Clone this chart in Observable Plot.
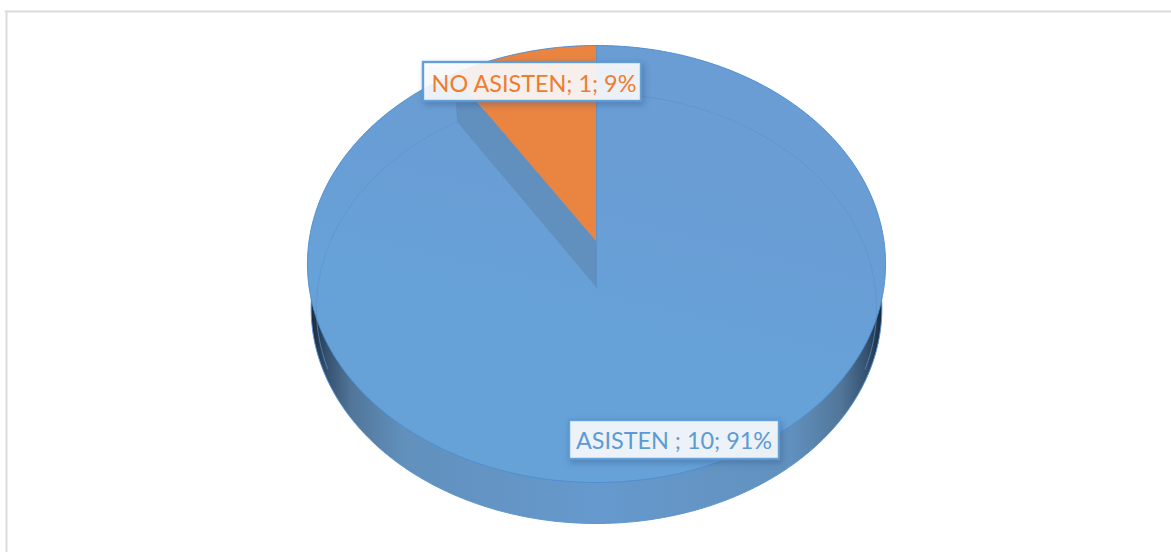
<!DOCTYPE html>
<html lang="es">
<head>
<meta charset="utf-8">
<script src="https://cdn.jsdelivr.net/npm/d3@7"></script>
<script src="https://cdn.jsdelivr.net/npm/@observablehq/plot@0.6"></script>
<style>
html, body { margin: 0; padding: 0; background: #fff; overflow: hidden; }
svg { display: block; }
.lbl { filter: drop-shadow(2px 3px 3px rgba(40, 70, 110, 0.35)); }
</style>
</head>
<body>
<div id="chart"></div>
<script>
// Data
const categories = ["ASISTEN ", "NO ASISTEN"];
const values = [10, 1];

// Layout (not data): 3D pie discs as perspective views of a unit circle
const W = 1171, H = 552;
const topDisc = {cx: 596, cy: 241, k: 287.5, a: 191.37, c: -0.103};
const baseDisc = {cx: 596, cy: 287, k: 278.7, a: 184.9, c: -0.0977};
const hullDisc = {cx: 596, cy: 287, k: 284, a: 184.9, c: -0.0977};
const labelBoxes = [
  {x1: 569, x2: 779, y1: 420, y2: 459, tx: 673.5, ty: 440.5},
  {x1: 423, x2: 641, y1: 62, y2: 101, tx: 533.5, ty: 84}
];
const sliceColors = ["#689fd6", "#ea8441"];
const textColors = ["#5b9bd5", "#ed7d31"];

// Slices, clockwise from 12 o'clock
const total = d3.sum(values);
const arcs = d3.pie().sort(null)(values);

function project(disc, t) {
  const u = Math.sin(t), v = -Math.cos(t);
  const w = 1 + disc.c * v;
  return {x: disc.cx + disc.k * u / w, y: (disc.cy + disc.a * v) / w};
}
function arcPts(disc, t0, t1) {
  const n = Math.max(2, Math.ceil(Math.abs(t1 - t0) / 0.01));
  return d3.range(n + 1).map(i => project(disc, t0 + (t1 - t0) * i / n));
}
const hub = disc => ({x: disc.cx, y: disc.cy});

const slicePolys = arcs.map(a => [hub(topDisc), ...arcPts(topDisc, a.startAngle, a.endAngle)]);
const topOutline = arcPts(topDisc, 0, 2 * Math.PI);
const baseOutline = arcPts(hullDisc, 0, 2 * Math.PI);
const seam = arcs[1].startAngle;
const wall = [
  hub(topDisc), project(topDisc, seam),
  project(baseDisc, seam), hub(baseDisc)
];
const hiddenRim = arcPts(baseDisc, -Math.PI * 0.62, Math.PI * 0.62);
const spoke = [hub(topDisc), hub(baseDisc)];
const rightEdge = [project(topDisc, 0), hub(topDisc)];
const frameTop = [{x: 5, y: 11}, {x: W, y: 11}];
const frameLeft = [{x: 6, y: 11}, {x: 6, y: H}];

const labels = arcs.map((a, i) => ({
  ...labelBoxes[i],
  text: `${categories[i]}; ${values[i]}; ${Math.round(values[i] / total * 100)}%`,
  color: textColors[i]
}));

const defs = () => {
  const s = d3.create("svg:defs");
  const side = s.append("linearGradient").attr("id", "sideGrad")
    .attr("gradientUnits", "userSpaceOnUse")
    .attr("x1", 311).attr("x2", 881).attr("y1", 0).attr("y2", 0);
  [[0, "#1a2a3d"], [0.025, "#34506e"], [0.07, "#517699"], [0.16, "#6190bc"], [0.5, "#6699cd"],
   [0.84, "#6191be"], [0.93, "#517699"], [0.975, "#34506e"], [1, "#1a2a3d"]]
    .forEach(([o, c]) => side.append("stop").attr("offset", o).attr("stop-color", c));
  const top = s.append("linearGradient").attr("id", "topGrad")
    .attr("gradientUnits", "userSpaceOnUse")
    .attr("x1", 520).attr("x2", 620).attr("y1", 480).attr("y2", 60);
  [[0, "#67a2d7"], [0.4, "#66a1d7"], [0.7, "#699ed5"], [1, "#6a9dd4"]]
    .forEach(([o, c]) => top.append("stop").attr("offset", o).attr("stop-color", c));
  return s.node();
};

const poly = (pts, opts) => Plot.line(pts, {x: "x", y: "y", curve: "linear-closed", ...opts});
const path = (pts, opts) => Plot.line(pts, {x: "x", y: "y", ...opts});

const chart = Plot.plot({
  width: W,
  height: H,
  margin: 0,
  style: {background: "#fff"},
  x: {domain: [0, W], range: [0, W], axis: null},
  y: {domain: [0, H], range: [0, H], axis: null},
  marks: [
    defs,
    path(frameTop, {stroke: "#dcdcdc", strokeWidth: 2}),
    path(frameLeft, {stroke: "#dcdcdc", strokeWidth: 2}),
    poly(baseOutline, {fill: "url(#sideGrad)", stroke: "#5a95cf", strokeWidth: 1}),
    poly(slicePolys[0], {fill: "url(#topGrad)", stroke: "none"}),
    path(hiddenRim, {stroke: "#5a94cc", strokeWidth: 1, strokeOpacity: 0.7}),
    poly(wall, {fill: "#6190bf", stroke: "none"}),
    poly(slicePolys[1], {fill: sliceColors[1], stroke: "none"}),
    path(spoke, {stroke: "#5a91c8", strokeWidth: 1}),
    path(rightEdge, {stroke: "#5c93ca", strokeWidth: 1}),
    poly(topOutline, {stroke: "#4f8fd0", strokeWidth: 1, fill: "none"}),
    Plot.rect(labels, {
      x1: "x1", x2: "x2", y1: "y1", y2: "y2",
      fill: "#ffffff", fillOpacity: 0.89,
      stroke: "#5b9bd5", strokeWidth: 2.4, strokeOpacity: 0.95,
      className: "lbl"
    }),
    Plot.text(labels, {
      x: "tx", y: "ty", text: "text", fill: "color",
      fontFamily: "Lato", fontSize: 23.4, fontWeight: 400, textAnchor: "middle"
    })
  ]
});
document.getElementById("chart").append(chart);
</script>
</body>
</html>
